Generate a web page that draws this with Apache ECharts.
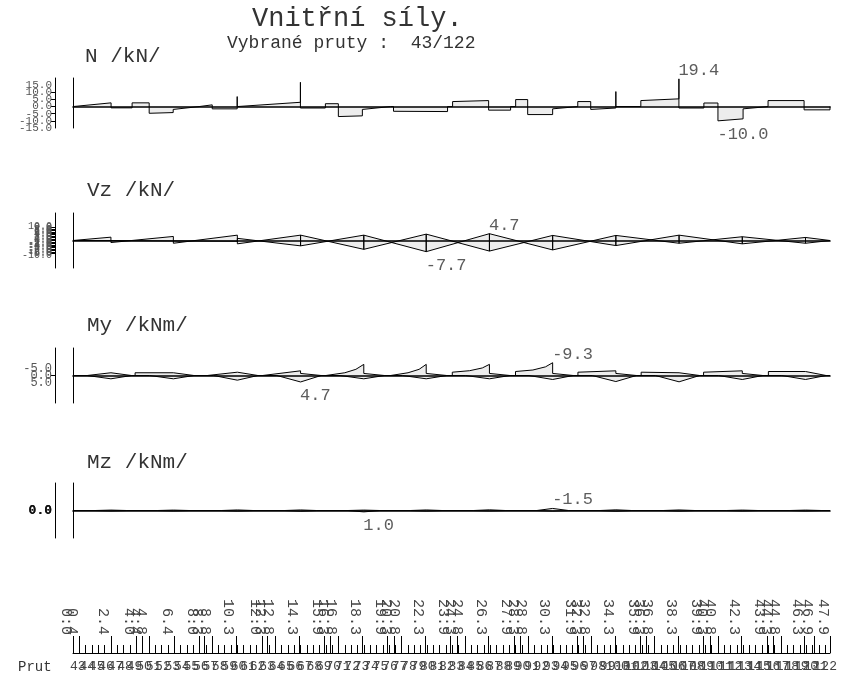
<!DOCTYPE html>
<html>
<head>
<meta charset="utf-8">
<title>Vnitřní síly</title>
<script src="https://cdn.jsdelivr.net/npm/echarts@6/dist/echarts.min.js"></script>
<style>
  html, body { margin: 0; padding: 0; background: #fff; }
  #chart { width: 841px; height: 675px; }
</style>
</head>
<body>
<div id="chart"></div>
<script>
// délka vybraných prutů [m]
const X_MAX = 47.9;

// N /kN/  [x m, N kN]
const nShape = [
  [0, 0], [0, 0.5], [2.41, 2.6], [2.41, -0.9], [3.74, -0.9], [3.74, 2.6], [4.82, 2.6], [4.82, -4.7],
  [6.34, -4.2], [6.34, -2.0], [7.98, 0], [7.98, 1.2], [8.81, 1.2], [8.81, -1.6], [10.39, -1.6],
  [10.39, 7.0], [10.39, 0], [14.39, 3.0], [14.39, 17.0], [14.39, -1.0], [15.97, -1.0], [15.97, 2.0],
  [16.79, 2.0], [16.79, -7.0], [18.31, -6.5], [18.31, -2.0], [20.09, 0], [20.28, 0], [20.28, -3.3],
  [23.70, -3.5], [23.70, 0], [24.02, 0], [24.02, 3.5], [26.30, 4.2], [26.30, -2.5], [27.69, -2.5],
  [27.69, 0], [28.01, 0], [28.01, 4.9], [28.77, 4.9], [28.77, -5.6], [30.35, -5.6], [30.35, -1.6],
  [31.94, 0], [31.94, 3.5], [32.76, 3.5], [32.76, -2.0], [34.35, -1.0], [34.35, 10.5], [34.35, 0],
  [35.93, 0], [35.93, 4.2], [38.34, 5.4], [38.34, 19.4], [38.34, -1.0], [39.92, -1.0], [39.92, 2.5],
  [40.81, 2.5], [40.81, -10.0], [42.40, -8.6], [42.40, -1.6], [43.98, 0], [43.98, 4.2], [46.26, 4.2],
  [46.26, -2.3], [47.9, -2.3], [47.9, 0]
];
const nPeaks = [[38.34, 19.4], [40.81, -10.0]];

// Vz /kN/
const vzRise = [
  [0, 0], [2.4, 2.3], [2.4, -1.4], [6.35, 2.8], [6.35, -1.9], [10.4, 3.7], [10.4, -2.3], [14.4, 3.7],
  [14.4, -3.7], [18.4, 3.7], [18.4, -6.1], [22.35, 4.4], [22.35, -7.7], [26.35, 4.7], [26.35, -7.3],
  [30.35, 3.5], [30.35, -6.5], [34.35, 3.5], [34.35, -3.5], [38.35, 3.7], [38.35, -1.9], [42.35, 2.6],
  [42.35, -2.3], [46.35, 2.1], [46.35, -1.9], [47.9, 0]
];
const vzFall = [
  [0, 0], [2.4, 0], [2.4, 0.3], [6.35, -0.3], [6.35, 0.5], [10.4, -0.5], [10.4, 1.5], [14.4, -3.7],
  [14.4, 3.7], [18.4, -6.1], [18.4, 3.7], [22.35, -7.7], [22.35, 4.4], [26.35, -7.3], [26.35, 4.7],
  [30.35, -6.5], [30.35, 3.5], [34.35, -3.5], [34.35, 3.5], [38.35, -1.9], [38.35, 3.7], [42.35, -2.3],
  [42.35, 2.6], [46.35, -1.9], [46.35, 2.1], [47.9, 0]
];
const vzPeaks = [[26.35, 4.7], [22.35, -7.7]];

// My /kNm/
const myTop = [
  [0, 0], [0.9, 0], [2.4, -2.0], [2.4, -1.5], [3.7, 0],
  [3.93, 0], [3.93, -2.0], [6.35, -2.0], [6.35, -1.5], [7.65, 0],
  [8.5, 0], [10.4, -2.4], [10.4, -1.5], [11.7, 0],
  [12.0, 0], [14.4, -3.4], [14.4, -1.5], [15.7, 0],
  [16.0, 0], [16.0, -0.5], [17.2, -2.0], [17.9, -4.5], [18.4, -8.1], [18.4, -1.5], [19.7, 0],
  [20.1, 0], [20.1, -0.5], [21.2, -2.0], [21.9, -4.5], [22.35, -8.1], [22.35, -1.5], [23.65, 0],
  [24.0, 0], [24.0, -2.4], [25.1, -3.5], [25.9, -5.5], [26.35, -8.1], [26.35, -1.5], [27.65, 0],
  [28.0, 0], [28.0, -2.9], [29.1, -4.0], [29.9, -6.3], [30.35, -9.3], [30.35, -1.5], [31.65, 0],
  [31.95, 0], [31.95, -2.4], [34.35, -3.4], [34.35, -1.5], [35.65, 0],
  [35.95, 0], [35.95, -2.4], [38.35, -2.0], [38.35, -1.5], [39.65, 0],
  [39.9, 0], [39.9, -2.4], [42.35, -3.4], [42.35, -1.5], [43.65, 0],
  [44.0, 0], [44.0, -2.9], [46.35, -2.9], [46.35, -1.5], [47.65, 0], [47.9, 0]
];
const myBot = [
  [0, 0], [0.9, 0], [2.4, 2.4], [3.7, 0], [4.85, 0], [6.35, 2.4], [7.65, 0],
  [8.9, 0], [10.4, 3.4], [11.7, 0], [12.9, 0], [14.4, 4.7], [15.7, 0],
  [16.9, 0], [18.4, 2.4], [19.7, 0], [20.85, 0], [22.35, 2.4], [23.65, 0],
  [24.85, 0], [26.35, 2.4], [27.65, 0], [28.85, 0], [30.35, 2.9], [31.65, 0],
  [32.85, 0], [34.35, 4.4], [35.65, 0], [36.85, 0], [38.35, 4.6], [39.65, 0],
  [40.85, 0], [42.35, 2.9], [43.65, 0], [44.85, 0], [46.35, 2.9], [47.65, 0], [47.9, 0]
];
const myPeaks = [[30.35, -9.3], [14.4, 4.7]];

// Mz /kNm/
const mzTop = [
  [0, 0], [1.4, 0], [2.4, -0.3], [3.4, 0], [5.35, 0], [6.35, -0.3], [7.35, 0], [9.4, 0], [10.4, -0.4],
  [11.4, 0], [13.4, 0], [14.4, -0.4], [15.4, 0], [17.4, 0], [18.4, -0.3], [19.4, 0], [21.35, 0],
  [22.35, -0.4], [23.35, 0], [25.35, 0], [26.35, -0.5], [27.35, 0], [29.35, 0], [30.35, -1.5],
  [31.35, 0], [33.35, 0], [34.35, -0.5], [35.35, 0], [37.35, 0], [38.35, -0.4], [39.35, 0],
  [41.35, 0], [42.35, -0.3], [43.35, 0], [45.35, 0], [46.35, -0.3], [47.35, 0], [47.9, 0]
];
const mzBot = [
  [0, 0], [1.4, 0], [2.4, 0.3], [3.4, 0], [5.35, 0], [6.35, 0.3], [7.35, 0], [9.4, 0], [10.4, 0.4],
  [11.4, 0], [13.4, 0], [14.4, 0.5], [15.4, 0], [17.4, 0], [18.4, 1.0], [19.4, 0], [21.35, 0],
  [22.35, 0.4], [23.35, 0], [25.35, 0], [26.35, 0.3], [27.35, 0], [29.35, 0], [30.35, 0.4],
  [31.35, 0], [33.35, 0], [34.35, 0.5], [35.35, 0], [37.35, 0], [38.35, 0.4], [39.35, 0],
  [41.35, 0], [42.35, 0.3], [43.35, 0], [45.35, 0], [46.35, 0.3], [47.35, 0], [47.9, 0]
];
const mzPeaks = [[30.35, -1.5], [18.4, 1.0]];

// popisky svislých os
const nAxisTicks = [-15, -10, -5, 0, 5, 10, 15];
const vzAxisTicks = [-10, -9, -8, -7, -6, -5, -4, -3, -2, -1, 0, 1, 2, 3, 4, 5, 6, 7, 8, 9, 10];
const myAxisTicks = [-5, 0, 5];
const mzAxisTicks = [0, 0.04];

// staničení pod osou [m]
const stationLabels = [
  0.0, 0.4, 2.4, 4.0, 4.4, 4.8, 6.4, 8.0, 8.3, 8.8, 10.3, 12.0, 12.3, 12.8, 14.3, 15.9, 16.3, 16.8,
  18.3, 19.9, 20.3, 20.8, 22.3, 23.9, 24.3, 24.8, 26.3, 27.9, 28.3, 28.8, 30.3, 31.9, 32.3, 32.8,
  34.3, 35.9, 36.3, 36.8, 38.3, 39.9, 40.3, 40.8, 42.3, 43.9, 44.3, 44.8, 46.3, 46.9, 47.9
];

// čísla prutů
const members = [
  43, 44, 45, 46, 47, 48, 49, 50, 51, 52, 53, 54, 55, 56, 57, 58, 59, 60, 61, 62,
  63, 64, 65, 66, 67, 68, 69, 70, 71, 72, 73, 74, 75, 76, 77, 78, 79, 80, 81, 82,
  83, 84, 85, 86, 87, 88, 89, 90, 91, 92, 93, 94, 95, 96, 97, 98, 99, 100, 101, 102,
  103, 104, 105, 106, 107, 108, 109, 110, 111, 112, 113, 114, 115, 116, 117, 118, 119, 120, 121, 122
];

const MONO = "'Liberation Mono', 'DejaVu Sans Mono', monospace";
const LEFT = 73, RIGHT = 11;
const chart = echarts.init(document.getElementById('chart'));

// prázdné krajní popisky, aby ECharts neskrýval první/poslední překrývající se hodnotu
function padded(vals) {
  return [vals[0]].concat(vals, [vals[vals.length - 1]]);
}
function paddedFormatter(count) {
  return (v, idx) => (idx === 0 || idx === count + 1) ? ' ' : v.toFixed(1);
}

const panels = [
  { shapes: [nShape], peaks: nPeaks, ticks: nAxisTicks, top: 78, height: 50, min: -15, max: 20, inverse: false, font: 11, bold: false },
  { shapes: [vzRise, vzFall], peaks: vzPeaks, ticks: vzAxisTicks, top: 213, height: 55, min: -19, max: 19, inverse: false, font: 10, bold: false },
  { shapes: [myTop, myBot], peaks: myPeaks, ticks: myAxisTicks, top: 348, height: 55, min: -20, max: 20, inverse: true, font: 12, bold: false },
  { shapes: [mzTop, mzBot], peaks: mzPeaks, ticks: mzAxisTicks, top: 483, height: 55, min: -20, max: 20, inverse: true, font: 13, bold: true }
];

const grid = [], xAxis = [], yAxis = [], series = [];

panels.forEach((p, i) => {
  grid.push({ left: LEFT, right: RIGHT, top: p.top, height: p.height });
  xAxis.push({
    gridIndex: i, type: 'value', min: 0, max: X_MAX,
    axisLine: { onZero: true, onZeroAxisIndex: 2 * i, lineStyle: { color: '#000', width: 1.6 } },
    axisTick: { show: false }, axisLabel: { show: false }, splitLine: { show: false }
  });
  // osa u diagramu
  yAxis.push({
    gridIndex: i, type: 'value', min: p.min, max: p.max, inverse: p.inverse,
    axisLine: { show: true, onZero: false, lineStyle: { color: '#000', width: 1 } },
    axisTick: { show: false }, axisLabel: { show: false }, splitLine: { show: false }
  });
  // měřítko vlevo
  yAxis.push({
    gridIndex: i, type: 'value', min: p.min, max: p.max, inverse: p.inverse,
    position: 'left', offset: 18,
    axisLine: { show: true, onZero: false, lineStyle: { color: '#000', width: 1 } },
    axisTick: { show: true, length: 4, customValues: p.ticks, lineStyle: { color: '#000' } },
    axisLabel: {
      customValues: padded(p.ticks), margin: 3, fontFamily: MONO, fontSize: p.font,
      fontWeight: p.bold ? 'bold' : 'normal', color: p.bold ? '#111' : '#555',
      formatter: paddedFormatter(p.ticks.length)
    },
    splitLine: { show: false }
  });
  p.shapes.forEach(d => {
    series.push({
      type: 'line', xAxisIndex: i, yAxisIndex: 2 * i, data: d, symbol: 'none',
      lineStyle: { color: '#000', width: 1 },
      areaStyle: { color: 'rgba(0,0,0,0.1)' }, z: 3
    });
  });
  series.push({
    type: 'scatter', xAxisIndex: i, yAxisIndex: 2 * i, symbolSize: 1,
    itemStyle: { color: 'rgba(0,0,0,0)' }, z: 5,
    data: p.peaks.map(pt => {
      const up = p.inverse ? pt[1] < 0 : pt[1] > 0;
      return {
        value: pt,
        label: {
          show: true, position: [0, up ? -8 : 14], align: 'left', verticalAlign: 'middle',
          formatter: pt[1].toFixed(1)
        }
      };
    }),
    label: { fontFamily: MONO, fontSize: 17, color: '#333' }
  });
});

// spodní osa s pruty
grid.push({ left: LEFT, right: RIGHT, top: 637, height: 16 });
yAxis.push({ gridIndex: 4, type: 'value', show: false });
xAxis.push({
  gridIndex: 4, type: 'category', position: 'bottom', data: members, boundaryGap: true,
  axisLine: { show: true, lineStyle: { color: '#000', width: 1 } },
  axisTick: { show: false },
  axisLabel: {
    interval: 0, margin: 7, fontFamily: MONO, fontSize: 13, color: '#444',
    showMinLabel: true, showMaxLabel: true
  }
});
xAxis.push({
  gridIndex: 4, type: 'value', position: 'bottom', min: 0, max: X_MAX,
  axisLine: { show: false },
  axisTick: { show: true, inside: true, length: 17, customValues: stationLabels, lineStyle: { color: '#000' } },
  axisLabel: { show: false }, splitLine: { show: false }
});
xAxis.push({
  gridIndex: 4, type: 'value', position: 'bottom', min: 0, max: X_MAX, interval: 0.4,
  axisLine: { show: false },
  axisTick: { show: true, inside: true, length: 8, lineStyle: { color: '#000' } },
  axisLabel: { show: false }, splitLine: { show: false }
});
xAxis.push({
  gridIndex: 4, type: 'value', position: 'top', min: 0, max: X_MAX,
  axisLine: { show: false }, axisTick: { show: false }, splitLine: { show: false },
  axisLabel: {
    customValues: padded(stationLabels), rotate: 90, margin: 2, fontFamily: MONO, fontSize: 15,
    color: '#444', verticalAlign: 'top',
    formatter: paddedFormatter(stationLabels.length)
  }
});

const texts = [
  { text: 'Vnitřní síly.', x: 252, y: 19, size: 27 },
  { text: 'Vybrané pruty :  43/122', x: 227, y: 43, size: 18 },
  { text: 'N /kN/', x: 85, y: 56, size: 21 },
  { text: 'Vz /kN/', x: 87, y: 190, size: 21 },
  { text: 'My /kNm/', x: 87, y: 325, size: 21 },
  { text: 'Mz /kNm/', x: 87, y: 462, size: 21 },
  { text: 'Prut', x: 18, y: 667, size: 14 }
];

chart.setOption({
  animation: false,
  backgroundColor: '#fff',
  grid: grid,
  xAxis: xAxis,
  yAxis: yAxis,
  series: series,
  graphic: texts.map(t => ({
    type: 'text', x: t.x, y: t.y,
    style: { text: t.text, font: t.size + 'px ' + MONO, fill: '#333', verticalAlign: 'middle' }
  }))
});
</script>
</body>
</html>
